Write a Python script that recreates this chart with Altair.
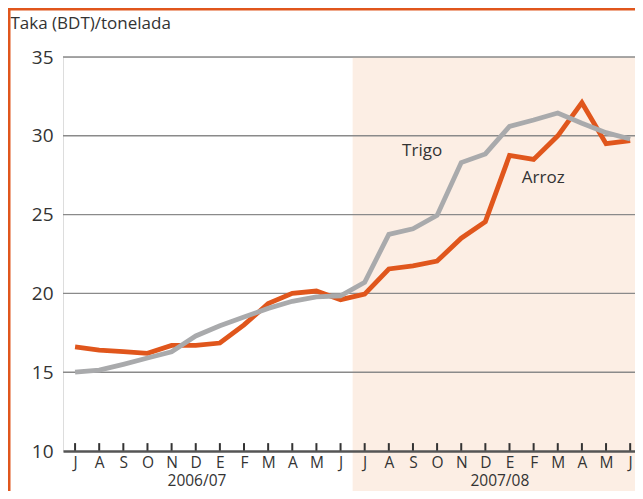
import altair as alt
import pandas as pd

months = ["J", "A", "S", "O", "N", "D", "E", "F", "M", "A", "M", "J",
          "J", "A", "S", "O", "N", "D", "E", "F", "M", "A", "M", "J"]
arroz = [16.6, 16.4, 16.3, 16.2, 16.7, 16.7, 16.85, 18.0, 19.35, 20.0, 20.15, 19.6,
         19.95, 21.55, 21.75, 22.05, 23.5, 24.55, 28.75, 28.5, 30.0, 32.1, 29.5, 29.7]
trigo = [15.0, 15.13, 15.5, 15.9, 16.3, 17.3, 17.95, 18.5, 19.05, 19.5, 19.78, 19.85,
         20.7, 23.75, 24.1, 24.95, 28.3, 28.85, 30.6, 31.0, 31.45, 30.8, 30.2, 29.8]
years = ["2006/07", "2007/08"]
year_pos = [5.05, 17.6]
y_ticks = [10, 15, 20, 25, 30, 35]
series_labels = ["Trigo", "Arroz"]
series_label_x = [14.38, 19.4]
series_label_y = [29.05, 27.3]

ORANGE = "#E0561C"
GRAY = "#A9AAAC"
SHADE = "#FCEEE4"
FONT = "Open Sans"
W, H = 572, 394
XMAX = 23.2

idx = list(range(len(months)))
df = pd.DataFrame({"i": idx * 2, "v": arroz + trigo,
                   "s": ["Arroz"] * len(idx) + ["Trigo"] * len(idx)})

label_expr = "[" + ",".join("'%s'" % m for m in months) + "][datum.value]"

xscale = alt.Scale(domain=[-0.5, XMAX], nice=False, zero=False)
yscale = alt.Scale(domain=[10, 35], nice=False, zero=False)

xaxis = alt.Axis(values=idx, labelExpr=label_expr, title=None, grid=False,
                 ticks=False, domain=True, domainColor="#555555", domainWidth=2.5,
                 labelFont=FONT, labelFontSize=15.5, labelColor="#333333",
                 labelPadding=4, zindex=1, labelFlush=False, labelOverlap=False,
                 labelBound=False)
yaxis = alt.Axis(values=y_ticks, title="Taka (BDT)/tonelada", titleAngle=0,
                 titleAlign="left", titleBaseline="alphabetic", titleX=-53, titleY=-29,
                 titleFont=FONT, titleFontSize=17, titleFontWeight="normal",
                 titleColor="#333333", grid=False, ticks=False, domain=False,
                 labelFont=FONT, labelFontSize=19, labelColor="#333333",
                 labelPadding=10)

base = alt.Chart(df)

shade = alt.Chart(pd.DataFrame({"a": [11.5], "b": [XMAX]})).mark_rect(color=SHADE).encode(
    x=alt.X("a:Q", scale=xscale, axis=xaxis),
    x2="b:Q",
    y=alt.value(0),
    y2=alt.value(H + 44),
)

grid = alt.Chart(pd.DataFrame({"g": y_ticks[1:]})).mark_rule(color="#8A8A8A", strokeWidth=1.4).encode(
    y=alt.Y("g:Q", scale=yscale, axis=yaxis),
    x=alt.value(0),
    x2=alt.value(W),
)

ticks = alt.Chart(pd.DataFrame({"i": idx, "y0": [10] * len(idx), "y1": [10.5] * len(idx)})).mark_rule(
    color="#333333", strokeWidth=2).encode(
    x=alt.X("i:Q", scale=xscale, axis=xaxis),
    y=alt.Y("y0:Q", scale=yscale, axis=yaxis),
    y2="y1:Q",
)

lines = base.mark_line(strokeWidth=4.8, strokeJoin="miter").encode(
    x=alt.X("i:Q", scale=xscale, axis=xaxis),
    y=alt.Y("v:Q", scale=yscale, axis=yaxis),
    color=alt.Color("s:N", scale=alt.Scale(domain=["Arroz", "Trigo"], range=[ORANGE, GRAY]),
                    legend=None),
)

slabels = alt.Chart(pd.DataFrame({"t": series_labels, "x": series_label_x, "y": series_label_y})).mark_text(
    font=FONT, fontSize=17, color="#333333").encode(
    x=alt.X("x:Q", scale=xscale, axis=xaxis), y=alt.Y("y:Q", scale=yscale, axis=yaxis), text="t:N")

ylabels = alt.Chart(pd.DataFrame({"t": years, "x": year_pos})).mark_text(
    font=FONT, fontSize=15.5, color="#333333", baseline="alphabetic").encode(
    x=alt.X("x:Q", scale=xscale, axis=xaxis), y=alt.value(H + 35), text="t:N")

border_left = alt.Chart(pd.DataFrame({"z": [0]})).mark_rule(color=ORANGE, strokeWidth=3).encode(
    x=alt.value(-54), y=alt.value(-49), y2=alt.value(H + 44))
border_top = alt.Chart(pd.DataFrame({"z": [0]})).mark_rule(color=ORANGE, strokeWidth=3).encode(
    y=alt.value(-48), x=alt.value(-55), x2=alt.value(W))

chart = alt.layer(shade, grid, ticks, lines, slabels, ylabels, border_left, border_top).properties(
    width=W, height=H,
    autosize=alt.AutoSizeParams(type="none"),
    padding={"left": 55, "top": 49, "right": 0, "bottom": 40},
).configure_view(stroke=None).configure_axisX(labelOverlap=False).configure(background="white")

chart.save("out.html", embed_options={"renderer": "svg", "actions": False})
